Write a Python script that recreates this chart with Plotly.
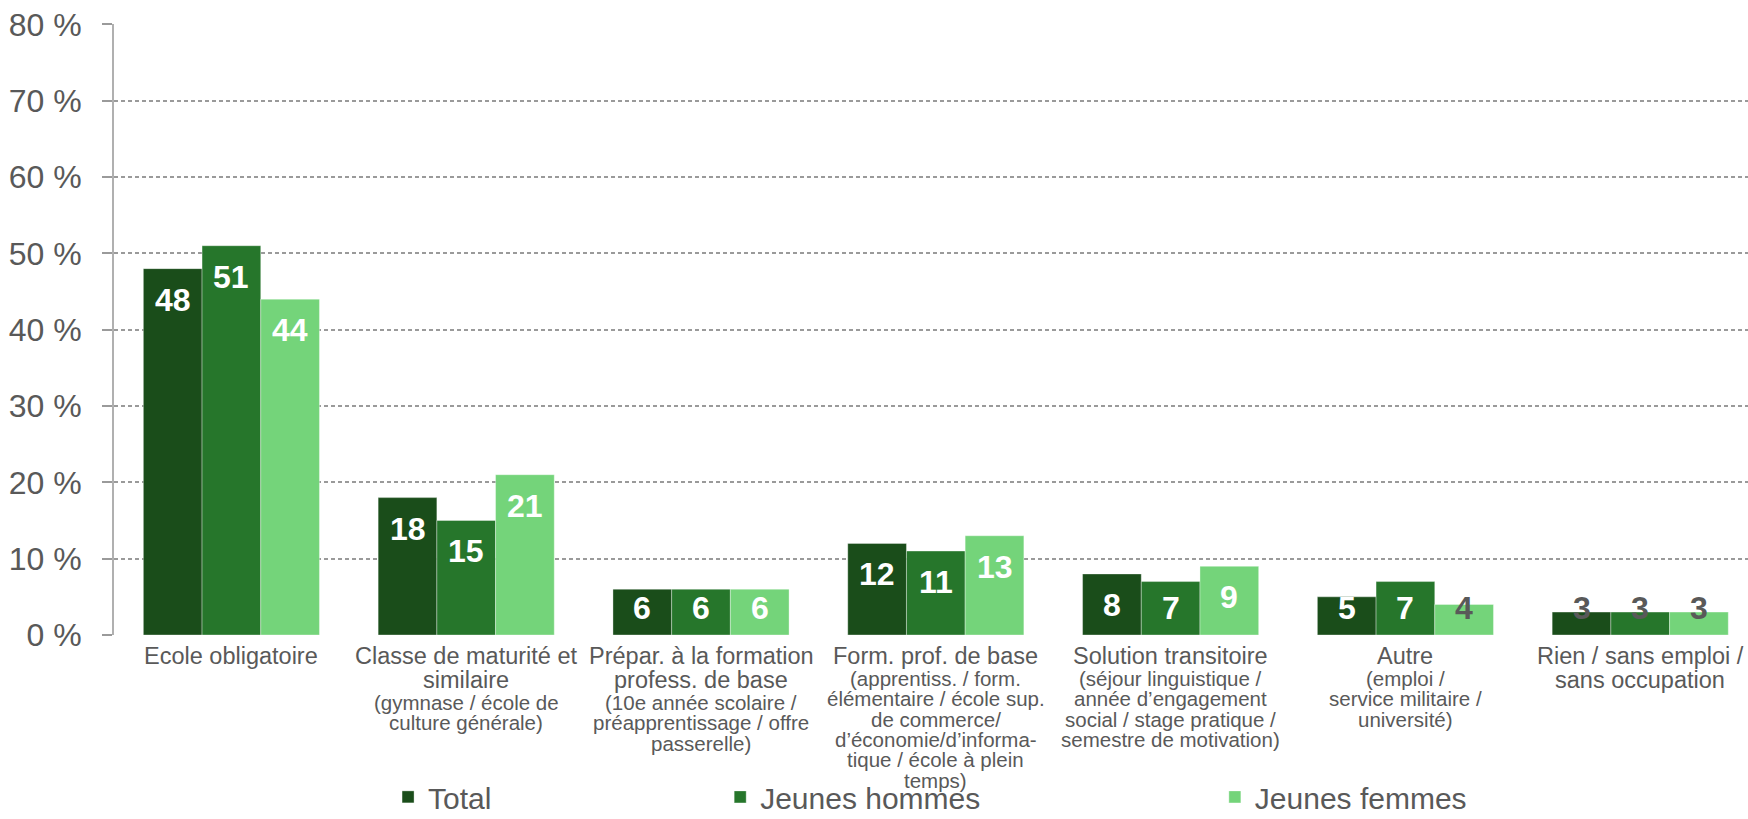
import plotly.graph_objects as go

# categories: main label lines and smaller detail lines
cat_main = [
    ["Ecole obligatoire"],
    ["Classe de maturité et", "similaire"],
    ["Prépar. à la formation", "profess. de base"],
    ["Form. prof. de base"],
    ["Solution transitoire"],
    ["Autre"],
    ["Rien / sans emploi /", "sans occupation"],
]
cat_sub = [
    [],
    ["(gymnase / école de", "culture générale)"],
    ["(10e année scolaire /", "préapprentissage / offre", "passerelle)"],
    ["(apprentiss. / form.", "élémentaire / école sup.", "de commerce/",
     "d’économie/d’informa-", "tique / école à plein", "temps)"],
    ["(séjour linguistique /", "année d’engagement", "social / stage pratique /",
     "semestre de motivation)"],
    ["(emploi /", "service militaire /", "université)"],
    [],
]

series_names = ["Total", "Jeunes hommes", "Jeunes femmes"]
total = [48, 18, 6, 12, 8, 5, 3]
hommes = [51, 15, 6, 11, 7, 7, 3]
femmes = [44, 21, 6, 13, 9, 4, 3]

y_ticks = [0, 10, 20, 30, 40, 50, 60, 70, 80]
y_ticktext = [f"{v} %" for v in y_ticks]

colors = ["#1A4D1A", "#26762B", "#74D47A"]
TEXT = "#595959"
FONT = "Liberation Sans, Arial, sans-serif"

BARGAP = 0.25
n_cat = len(cat_main)
x_idx = list(range(n_cat))

fig = go.Figure()
legend_ids = ["legend", "legend2", "legend3"]
for name, vals, col, lg in zip(series_names, [total, hommes, femmes], colors, legend_ids):
    fig.add_trace(
        go.Bar(
            x=x_idx,
            y=vals,
            name=name,
            marker={"color": col, "line": {"color": "rgba(255,255,255,0.35)", "width": 1}},
            legend=lg,
            showlegend=True,
        )
    )

annotations = []

# value labels, placed just inside the top of each bar
slot = (1 - BARGAP) / 3
for j, vals in enumerate([total, hommes, femmes]):
    for i, v in enumerate(vals):
        annotations.append(
            dict(
                x=i + (j - 1) * slot,
                xref="x",
                y=max(v - 4.05, 3.6),
                yref="y",
                text=f"<b>{v}</b>",
                showarrow=False,
                yanchor="middle",
                font={"size": 32, "color": "white" if v >= 5 else TEXT, "family": FONT},
            )
        )

# category labels (one annotation per line for tight line spacing)
for i in range(n_cat):
    off = 21
    for k, line in enumerate(cat_main[i]):
        annotations.append(
            dict(x=i, xref="x", y=0, yref="paper", yanchor="middle", yshift=-off,
                 text=line, showarrow=False,
                 font={"size": 23.5, "color": TEXT, "family": FONT})
        )
        if k < len(cat_main[i]) - 1:
            off += 24
    off += 22.5
    for line in cat_sub[i]:
        annotations.append(
            dict(x=i, xref="x", y=0, yref="paper", yanchor="middle", yshift=-off,
                 text=line, showarrow=False,
                 font={"size": 20.5, "color": TEXT, "family": FONT})
        )
        off += 20.3

legend_common = dict(
    orientation="h",
    yref="container",
    xref="container",
    yanchor="middle",
    y=0.027,
    xanchor="left",
    font={"size": 30, "color": TEXT, "family": FONT},
    bgcolor="rgba(0,0,0,0)",
)

fig.update_layout(
    width=1748,
    height=819,
    margin={"l": 114, "r": 0, "t": 24, "b": 184, "autoexpand": False},
    paper_bgcolor="white",
    plot_bgcolor="white",
    barmode="group",
    bargap=BARGAP,
    bargroupgap=0,
    showlegend=True,
    font={"family": FONT, "color": TEXT},
    annotations=annotations,
    legend=dict(legend_common, x=0.222),
    legend2=dict(legend_common, x=0.412),
    legend3=dict(legend_common, x=0.695),
    xaxis={
        "range": [-0.5, 6.459],
        "showticklabels": False,
        "showgrid": False,
        "zeroline": False,
        "showline": False,
        "ticks": "",
        "automargin": False,
    },
    yaxis={
        "range": [0, 80.05],
        "tickvals": y_ticks,
        "ticktext": y_ticktext,
        "tickfont": {"size": 32, "color": TEXT, "family": FONT},
        "showgrid": True,
        "gridcolor": "#9A9A9A",
        "gridwidth": 1.6,
        "griddash": "4px,3px",
        "zeroline": False,
        "showline": True,
        "linecolor": "#B0B0B0",
        "linewidth": 2,
        "ticks": "outside",
        "ticklen": 10,
        "tickcolor": "#9A9A9A",
        "tickwidth": 1.6,
        "ticklabelstandoff": 14,
        "automargin": False,
    },
)

# drop the default page margin so the figure fills the window exactly
fig.write_html(
    "out.html",
    config={"displayModeBar": False},
    post_script="document.body.style.margin='0';document.body.style.overflow='hidden';",
)
